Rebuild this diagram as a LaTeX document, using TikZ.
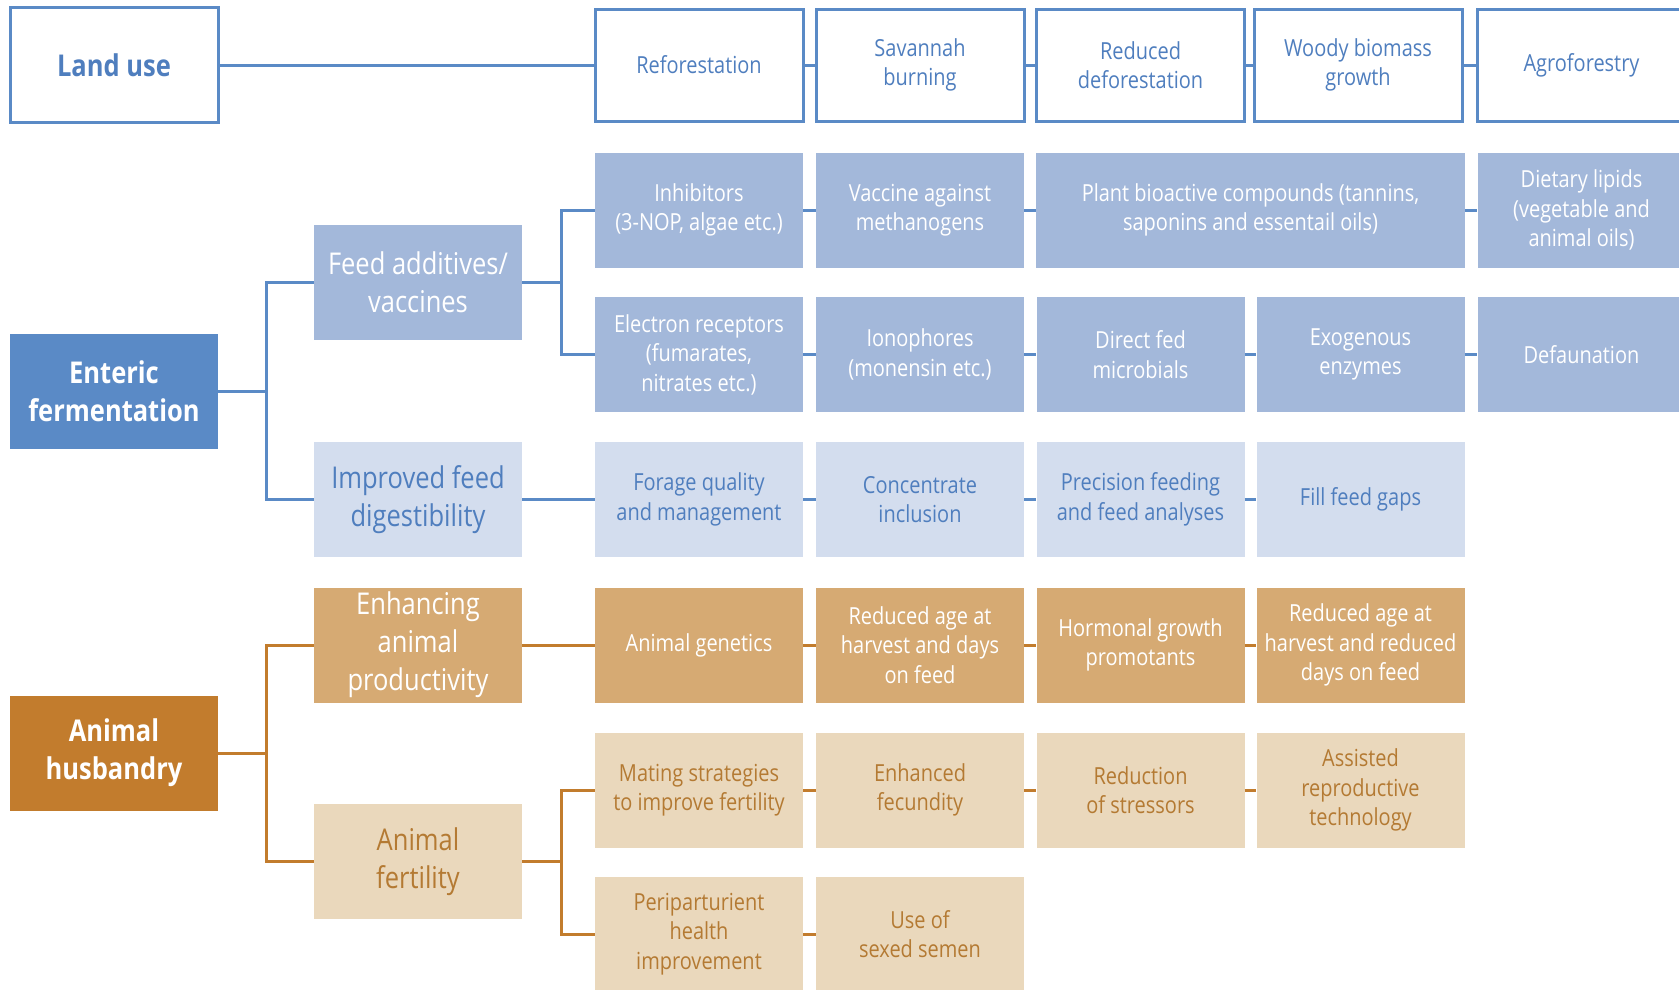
\documentclass[tikz,border=0pt]{standalone}
\usepackage{fontspec}
\setmainfont{Open Sans}[FakeStretch=0.85]
\definecolor{entblue}{HTML}{5A8AC6}
\definecolor{midblue}{HTML}{A3B8DA}
\definecolor{paleblue}{HTML}{D3DDEE}
\definecolor{txtblue}{HTML}{4F7EBE}
\definecolor{husbrown}{HTML}{C27C2D}
\definecolor{midtan}{HTML}{D6AA73}
\definecolor{paletan}{HTML}{EAD8BC}
\definecolor{txtbrown}{HTML}{B47A33}
\tikzset{
  cell/.style={minimum width=208pt,minimum height=115pt,inner sep=0pt,align=center,
    font=\fontsize{23.5}{29.5}\selectfont},
  bigcell/.style={cell,font=\fontsize{30}{38}\selectfont},
  boldcell/.style={cell,font=\fontsize{30}{38}\selectfont\bfseries},
  landbox/.style={cell,draw=entblue,line width=3pt,text=txtblue,minimum height=112pt},
  addbox/.style={cell,fill=midblue,text=white},
  digbox/.style={cell,fill=paleblue,text=txtblue},
  prodbox/.style={cell,fill=midtan,text=white},
  fertbox/.style={cell,fill=paletan,text=txtbrown},
  bline/.style={draw=entblue,line width=3pt},
  tline/.style={draw=husbrown,line width=3pt}
}
\begin{document}
\begin{tikzpicture}[x=1pt,y=-1pt]
  \clip (0,0) rectangle (1679,989);
  % root column
  \node[landbox,boldcell] (land) at (114,65) {Land use};
  \node[boldcell,fill=entblue,text=white] (ent) at (114,391) {Enteric\\fermentation};
  \node[boldcell,fill=husbrown,text=white] (hus) at (114,753) {Animal\\husbandry};
  % second column
  \node[bigcell,fill=midblue,text=white] (fa) at (418,282.5) {Feed additives/\\vaccines};
  \node[bigcell,fill=paleblue,text=txtblue] (imp) at (418,499.5) {Improved feed\\digestibility};
  \node[bigcell,fill=midtan,text=white] (enh) at (418,645) {Enhancing\\animal\\productivity};
  \node[bigcell,fill=paletan,text=txtbrown] (fert) at (418,861.5) {Animal\\fertility};
  % land use row
  \node[landbox] (refo) at (699,65) {Reforestation};
  \node[landbox] (sav) at (920,65) {Savannah\\burning};
  \node[landbox] (rdef) at (1140.5,65) {Reduced\\deforestation};
  \node[landbox] (woody) at (1358,65) {Woody biomass\\growth};
  \node[landbox] (agro) at (1581.5,65) {Agroforestry};
  % feed additives rows
  \node[addbox] (inh) at (699,210) {Inhibitors\\(3-NOP, algae etc.)};
  \node[addbox] (vac) at (920,210) {Vaccine against\\methanogens};
  \node[addbox,minimum width=429pt] (plant) at (1250.5,210) {Plant bioactive compounds (tannins,\\saponins and essentail oils)};
  \node[addbox] (lip) at (1581.5,210) {Dietary lipids\\(vegetable and\\animal oils)};
  \node[addbox] (elec) at (699,354.5) {Electron receptors\\(fumarates,\\nitrates etc.)};
  \node[addbox] (iono) at (920,354.5) {Ionophores\\(monensin etc.)};
  \node[addbox] (dfm) at (1140.5,354.5) {Direct fed\\microbials};
  \node[addbox] (exo) at (1360.5,354.5) {Exogenous\\enzymes};
  \node[addbox] (defa) at (1581.5,354.5) {Defaunation};
  % digestibility row
  \node[digbox] (forage) at (699,499.5) {Forage quality\\and management};
  \node[digbox] (conc) at (920,499.5) {Concentrate\\inclusion};
  \node[digbox] (prec) at (1140.5,499.5) {Precision feeding\\and feed analyses};
  \node[digbox] (gaps) at (1360.5,499.5) {Fill feed gaps};
  % productivity row
  \node[prodbox] (gen) at (699,645) {Animal genetics};
  \node[prodbox] (age) at (920,645) {Reduced age at\\harvest and days\\on feed};
  \node[prodbox] (horm) at (1140.5,645) {Hormonal growth\\promotants};
  \node[prodbox] (age2) at (1360.5,645) {Reduced age at\\harvest and reduced\\days on feed};
  % fertility rows
  \node[fertbox] (mate) at (699,790) {Mating strategies\\to improve fertility};
  \node[fertbox] (fec) at (920,790) {Enhanced\\fecundity};
  \node[fertbox] (stress) at (1140.5,790) {Reduction\\of stressors};
  \node[fertbox] (art) at (1360.5,790) {Assisted\\reproductive\\technology};
  \node[fertbox] (peri) at (699,934) {Periparturient\\health\\improvement};
  \node[fertbox] (sexed) at (920,934) {Use of\\sexed semen};
  % blue connectors
  \draw[bline] (land.east) -- (refo.west);
  \draw[bline] (refo) -- (sav) -- (rdef) -- (woody) -- (agro);
  \draw[bline] (ent.east) -- ++(48,0) coordinate (entbus);
  \draw[bline] (fa.west) -| (entbus) |- (imp.west);
  \draw[bline] (fa.east) -- ++(39,0) coordinate (fabus);
  \draw[bline] (inh.west) -| (fabus) |- (elec.west);
  \draw[bline] (inh) -- (vac) -- (plant) -- (lip);
  \draw[bline] (elec) -- (iono) -- (dfm) -- (exo) -- (defa);
  \draw[bline] (imp.east) -- (forage.west);
  \draw[bline] (forage) -- (conc) -- (prec) -- (gaps);
  % brown connectors
  \draw[tline] (hus.east) -- ++(48,0) coordinate (husbus);
  \draw[tline] (enh.west) -| (husbus) |- (fert.west);
  \draw[tline] (enh.east) -- (gen.west);
  \draw[tline] (gen) -- (age) -- (horm) -- (age2);
  \draw[tline] (fert.east) -- ++(39,0) coordinate (fertbus);
  \draw[tline] (mate.west) -| (fertbus) |- (peri.west);
  \draw[tline] (mate) -- (fec) -- (stress) -- (art);
  \draw[tline] (peri) -- (sexed);
\end{tikzpicture}
\end{document}
